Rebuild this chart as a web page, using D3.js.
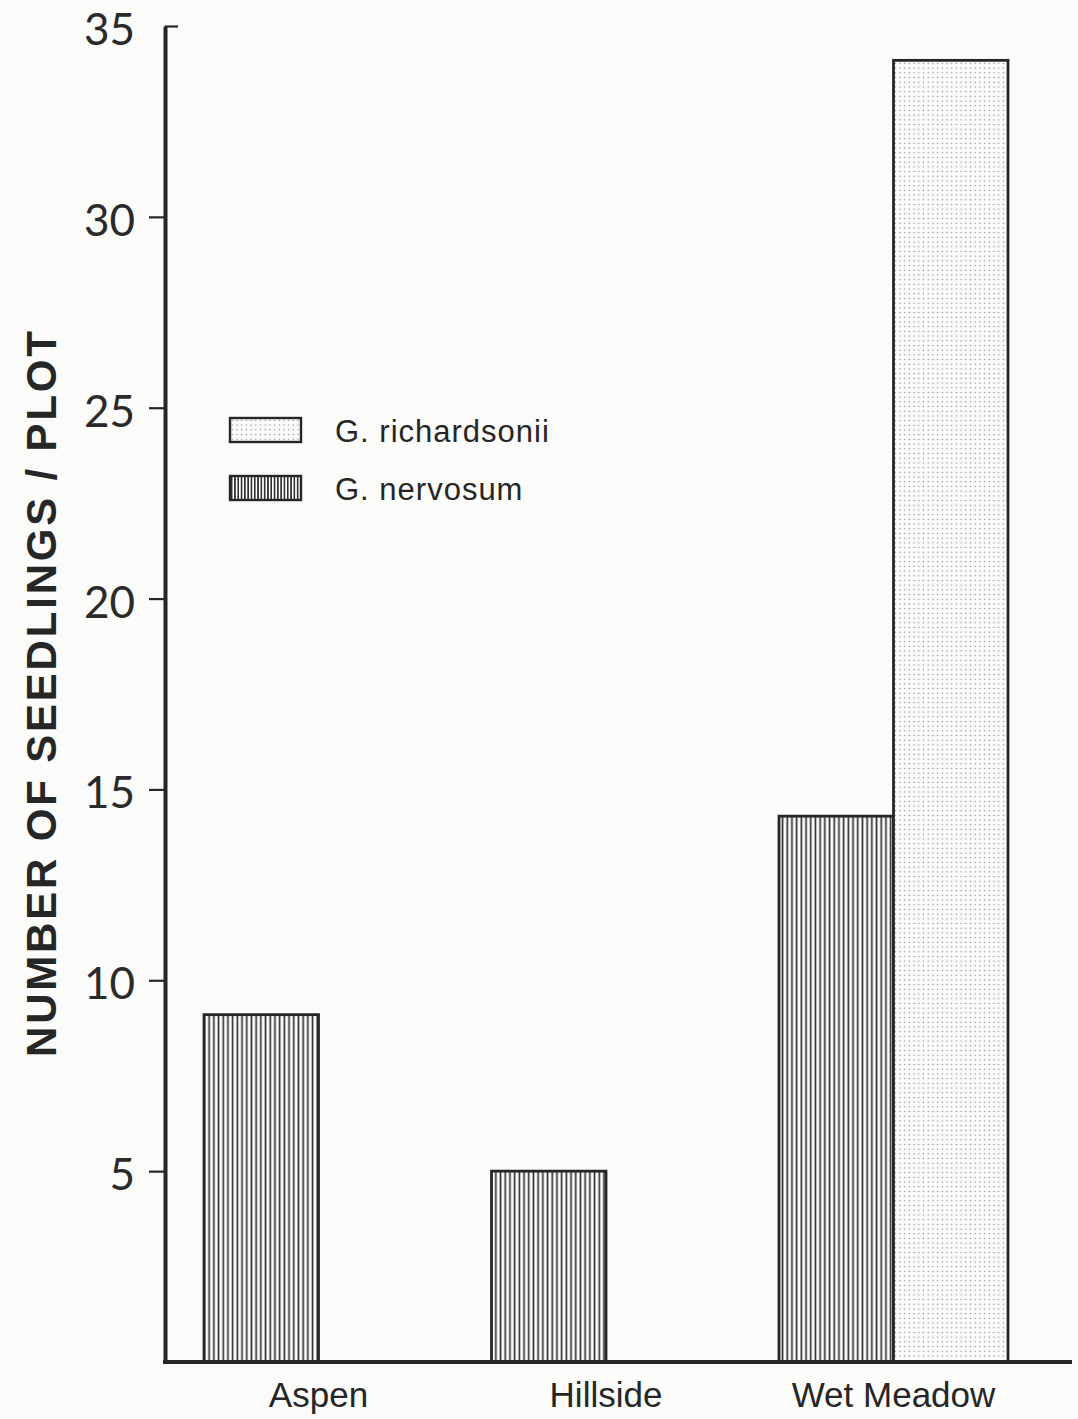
<!DOCTYPE html>
<html>
<head>
<meta charset="utf-8">
<script src="https://cdn.jsdelivr.net/npm/d3@7"></script>
<style>
  body { margin: 0; background: #fbfbf9; }
  svg { display: block; }
  .axis--y text { font-family: 'Lato', 'DejaVu Sans', sans-serif; font-weight: 400; fill: #2a2a2a; }
  .axis--x text { font-family: 'Liberation Sans', Arial, sans-serif; font-weight: 400; fill: #262626; }
</style>
</head>
<body>
<svg class="chart" width="1078" height="1419"></svg>
<script>
'use strict'

// categories and series
const sites = ['Aspen', 'Hillside', 'Wet Meadow']
const species = ['G. nervosum', 'G. richardsonii']
const nervosum = [9.1, 5.0, 14.3]
const richardsonii = [null, null, 34.1]
const yTicks = [5, 10, 15, 20, 25, 30, 35]
const yTitle = 'NUMBER OF SEEDLINGS / PLOT'

const svg = d3.select('svg.chart')
const ink = '#262626'

// fills: vertical hatching and fine dot screen
const defs = svg.append('defs')
function hatch (id, step) {
  const p = defs.append('pattern')
    .attr('id', id)
    .attr('patternUnits', 'userSpaceOnUse')
    .attr('width', step)
    .attr('height', 10)
  p.append('rect').attr('width', step).attr('height', 10).attr('fill', '#fdfdfb')
  p.append('line')
    .attr('x1', step / 2).attr('x2', step / 2)
    .attr('y1', 0).attr('y2', 10)
    .attr('stroke', '#303030')
    .attr('stroke-width', 1.7)
}
hatch('vlines', 4.7)
hatch('vlinesSmall', 3.3)

const dots = defs.append('pattern')
  .attr('id', 'dots')
  .attr('patternUnits', 'userSpaceOnUse')
  .attr('width', 4.7)
  .attr('height', 4.7)
dots.append('rect').attr('width', 4.7).attr('height', 4.7).attr('fill', '#fbfbf9')
dots.append('circle').attr('cx', 2.3).attr('cy', 2.3).attr('r', 0.75).attr('fill', '#8a8a8a')

const fills = { 'G. nervosum': 'url(#vlines)', 'G. richardsonii': 'url(#dots)' }

const x0 = d3.scaleBand().domain(sites).range([204, 1008]).paddingInner(0.2035).paddingOuter(0)
const x1 = d3.scaleBand().domain(species).range([0, x0.bandwidth()])
const y = d3.scaleLinear().domain([0, 35]).range([1362, 26])

const rows = []
sites.forEach((s, i) => {
  rows.push({ site: s, sp: 'G. nervosum', v: nervosum[i] })
  if (richardsonii[i] != null) rows.push({ site: s, sp: 'G. richardsonii', v: richardsonii[i] })
})

// bars
svg.append('g').selectAll('rect')
  .data(rows)
  .enter().append('rect')
  .attr('x', d => x0(d.site) + x1(d.sp))
  .attr('y', d => y(d.v))
  .attr('width', x1.bandwidth())
  .attr('height', d => y(0) - y(d.v))
  .attr('fill', d => fills[d.sp])
  .attr('stroke', ink)
  .attr('stroke-width', 2.8)

// y axis
const yAxis = svg.append('g')
  .attr('class', 'axis axis--y')
  .attr('transform', 'translate(165,0)')
  .call(d3.axisLeft(y).tickValues(yTicks).tickSize(16).tickPadding(14).tickSizeOuter(0))
yAxis.select('.domain').attr('stroke', ink).attr('stroke-width', 4)
yAxis.selectAll('.tick line').attr('stroke', ink).attr('stroke-width', 2.2)
yAxis.selectAll('.tick line').filter(d => d === 35).attr('x2', 13)
yAxis.selectAll('.tick text')
  .attr('font-size', 44)
  .attr('dy', '0.42em')

// x axis
const xAxis = svg.append('g')
  .attr('class', 'axis axis--x')
  .attr('transform', 'translate(0,' + y(0) + ')')
  .call(d3.axisBottom(x0).tickSize(0).tickPadding(20))
xAxis.select('.domain').remove()
xAxis.append('line')
  .attr('x1', 163).attr('x2', 1072)
  .attr('stroke', ink).attr('stroke-width', 4)
xAxis.selectAll('.tick text')
  .attr('font-size', 35)
  .attr('dy', '0.71em')

// axis title
svg.append('text')
  .attr('text-anchor', 'middle')
  .attr('transform', 'translate(56,694)rotate(-90)')
  .attr('font-family', "'Liberation Sans', Arial, sans-serif")
  .attr('font-weight', 700)
  .attr('font-size', 42)
  .attr('textLength', 726)
  .attr('lengthAdjust', 'spacing')
  .attr('fill', ink)
  .text(yTitle)

// legend
const legend = svg.append('g').attr('transform', 'translate(230,418)')
const legendItems = [
  { label: 'G. richardsonii', fill: 'url(#dots)' },
  { label: 'G. nervosum', fill: 'url(#vlinesSmall)' }
]
const li = legend.selectAll('g')
  .data(legendItems)
  .enter().append('g')
  .attr('transform', (d, i) => 'translate(0,' + (i * 58) + ')')
li.append('rect')
  .attr('width', 71).attr('height', 24)
  .attr('fill', d => d.fill)
  .attr('stroke', ink).attr('stroke-width', 2.4)
li.append('text')
  .attr('x', 105).attr('y', 24)
  .attr('font-family', "'Liberation Sans', Arial, sans-serif")
  .attr('font-size', 31)
  .attr('letter-spacing', 1)
  .attr('fill', ink)
  .text(d => d.label)
</script>
</body>
</html>
